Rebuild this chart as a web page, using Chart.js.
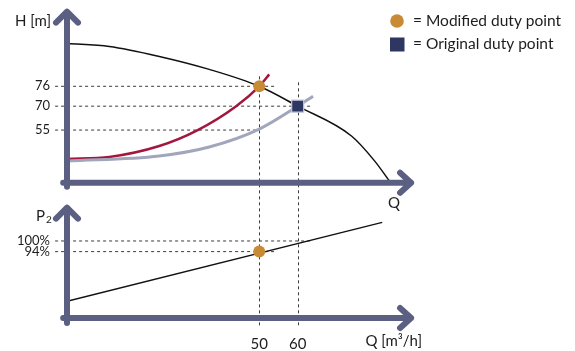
<!DOCTYPE html>
<html>
<head>
<meta charset="utf-8">
<script src="https://cdn.jsdelivr.net/npm/chart.js@4"></script>
<style>
    html, body { margin: 0; padding: 0; background: #fff; }
    #wrap { position: relative; width: 575px; height: 351px; }
</style>
</head>
<body>
<div id="wrap"><canvas id="dutyChart"></canvas></div>
<script>
// flow Q [m3/h] is shared by both panels
// head is a schematic axis: values are drawing units, tick labels say the real metres
const pumpQ = [0, 11, 24, 37, 50, 60, 74, 80, 84];
const pumpH = [140, 137, 127, 114, 97, 77, 47, 22, 1];
const modifiedQ = [0, 11, 24, 34, 44, 50, 52.6];
const modifiedH = [24, 26, 37, 53, 77, 97, 109];
const originalQ = [0, 24, 37, 50, 60, 64];
const originalH = [22, 27, 36, 54, 77, 87];
// shaft power P2 in %
const powerQ = [0, 82];
const powerP = [66, 110.5];

const modifiedPoint = { q: 50, h: 97, p: 94 };
const originalPoint = { q: 60, h: 77 };

const flowTicks = [50, 60];
const headTicks = [97, 77, 53];
const headLabels = ['76', '70', '55'];
const headGuideEnd = [54.4, 63.7, 50];
const powerTicks = [100, 94];
const powerLabels = ['100%', '94%'];
const powerGuideEnd = [63.7, 54.5];
const flowGuideTop = [107, 101];
const guideStart = -3.1;

const AXIS = '#5b6082';
const TEXT = '#1d1d1d';
const GUIDE = '#3c3c3c';
const ORANGE = '#c98a35';
const NAVY = '#2e3761';
const FONT = 'Lato';

const pts = (qs, vs) => qs.map((q, i) => ({ x: q, y: vs[i] }));

const curve = (label, data, axis, color, width) => ({
    label,
    data,
    yAxisID: axis,
    borderColor: color,
    borderWidth: width,
    pointRadius: 0,
    cubicInterpolationMode: 'monotone',
    fill: false,
    order: 1,
});

const guide = (y, end, axis) => ({
    label: 'guide',
    data: [{ x: guideStart, y }, { x: end, y }],
    yAxisID: axis,
    borderColor: GUIDE,
    borderWidth: 1,
    borderDash: [3, 3],
    pointRadius: 0,
    clip: false,
    order: 3,
});

const marker = (label, data, axis, style) => ({
    label,
    data,
    yAxisID: axis,
    showLine: false,
    clip: false,
    order: 0,
    ...style,
});

const dot = { pointStyle: 'circle', pointRadius: 6, backgroundColor: ORANGE, borderWidth: 0 };
const square = { pointStyle: 'rect', pointRadius: 8.5, backgroundColor: NAVY, borderColor: '#c3c7da', borderWidth: 1.2 };

const datasets = [
    marker('Modified duty point', [{ x: modifiedPoint.q, y: modifiedPoint.h }], 'yH', dot),
    marker('Original duty point', [{ x: originalPoint.q, y: originalPoint.h }], 'yH', square),
    marker('Modified P2', [{ x: modifiedPoint.q, y: modifiedPoint.p }], 'yP', dot),
    curve('Pump curve', pts(pumpQ, pumpH), 'yH', '#111111', 1.5),
    curve('Original system', pts(originalQ, originalH), 'yH', '#a1a6bd', 3),
    curve('Modified system', pts(modifiedQ, modifiedH), 'yH', '#a3173f', 2.5),
    curve('P2', pts(powerQ, powerP), 'yP', '#111111', 1.5),
    ...headTicks.map((h, i) => guide(h, headGuideEnd[i], 'yH')),
    ...powerTicks.map((p, i) => guide(p, powerGuideEnd[i], 'yP')),
];

function arrow(ctx, x1, y1, x2, y2, ax, ay, bx, by) {
    ctx.beginPath();
    ctx.moveTo(x1, y1);
    ctx.lineTo(x2, y2);
    ctx.moveTo(ax, ay);
    ctx.lineTo(x2, y2);
    ctx.lineTo(bx, by);
    ctx.stroke();
}

const schematic = {
    id: 'schematic',
    beforeDatasetsDraw(chart) {
        const { ctx, scales: { x, yH, yP } } = chart;
        ctx.save();
        ctx.strokeStyle = GUIDE;
        ctx.lineWidth = 1;
        ctx.setLineDash([3, 3]);
        flowTicks.forEach((q, i) => {
            const px = Math.round(x.getPixelForValue(q)) + 0.5;
            ctx.beginPath();
            ctx.moveTo(px, yH.getPixelForValue(flowGuideTop[i]));
            ctx.lineTo(px, yP.getPixelForValue(51.2));
            ctx.stroke();
        });
        ctx.restore();
    },
    afterDatasetsDraw(chart) {
        const { ctx, scales: { x, yH, yP } } = chart;
        const x0 = x.getPixelForValue(0);
        const xs = x.getPixelForValue(-1);
        const xe = x.getPixelForValue(89.5);
        ctx.save();
        ctx.strokeStyle = AXIS;
        ctx.lineWidth = 6;
        ctx.lineCap = 'round';
        ctx.lineJoin = 'round';

        // head panel
        const hTop = yH.getPixelForValue(172);
        const hAxis = yH.getPixelForValue(0);
        arrow(ctx, x0, hAxis + 4, x0, hTop, x0 - 11, hTop + 11, x0 + 11, hTop + 11);
        arrow(ctx, xs, hAxis, xe, hAxis, xe - 11, hAxis - 10, xe - 11, hAxis + 10);

        // power panel
        const pTop = yP.getPixelForValue(118.8);
        const pAxis = yP.getPixelForValue(56.5);
        arrow(ctx, x0, pAxis + 5, x0, pTop, x0 - 11, pTop + 11, x0 + 11, pTop + 11);
        arrow(ctx, xs, pAxis, xe, pAxis, xe - 11, pAxis - 10, xe - 11, pAxis + 10);

        // axis titles
        ctx.fillStyle = TEXT;
        ctx.textBaseline = 'middle';
        ctx.font = `15px ${FONT}`;
        ctx.textAlign = 'right';
        ctx.fillText('H [m]', x0 - 16, hTop + 9);
        ctx.fillText('P', x0 - 22, pTop + 8);
        ctx.font = `10px ${FONT}`;
        ctx.textAlign = 'left';
        ctx.fillText('2', x0 - 21, pTop + 12);
        ctx.font = `15px ${FONT}`;
        ctx.textAlign = 'center';
        ctx.fillText('Q', xe - 17, hAxis + 20);
        ctx.textAlign = 'right';
        ctx.fillText('Q [m\u00b3/h]', xe + 11, pAxis + 23);

        // legend
        ctx.font = `15.5px ${FONT}`;
        ctx.textAlign = 'left';
        ctx.fillStyle = ORANGE;
        ctx.beginPath();
        ctx.arc(397, 21, 6.8, 0, Math.PI * 2);
        ctx.fill();
        ctx.fillStyle = NAVY;
        ctx.fillRect(390, 37.5, 14.5, 14);
        ctx.fillStyle = TEXT;
        ctx.fillText('= Modified duty point', 413, 21);
        ctx.fillText('= Original duty point', 413, 43.5);
        ctx.restore();
    },
};

const yCommon = {
    type: 'linear',
    position: 'left',
    stack: 'panels',
    grid: { display: false, drawTicks: false },
    border: { display: false },
    afterFit: (scale) => {
        scale.width = 67;
        // tick padding would otherwise push the chart area down
        scale.paddingTop = 0;
        scale.paddingBottom = 0;
    },
};

new Chart(document.getElementById('dutyChart'), {
    type: 'line',
    data: { datasets },
    options: {
        responsive: true,
        maintainAspectRatio: false,
        animation: false,
        events: [],
        layout: { padding: { top: 8, right: 162, left: 0, bottom: 0 } },
        plugins: { legend: { display: false }, tooltip: { enabled: false } },
        scales: {
            x: {
                type: 'linear',
                min: 0,
                max: 90,
                grid: { display: false, drawTicks: false },
                border: { display: false },
                ticks: { padding: 9, color: TEXT, font: { family: FONT, size: 15 }, autoSkip: false },
                afterBuildTicks: (scale) => { scale.ticks = flowTicks.map((value) => ({ value })); },
                afterFit: (scale) => { scale.height = 25; },
            },
            yP: {
                ...yCommon,
                min: 52,
                max: 125,
                stackWeight: 130,
                weight: 1,
                ticks: {
                    padding: 17,
                    color: TEXT,
                    font: { family: FONT, size: 13, lineHeight: 1 },
                    autoSkip: false,
                    callback: (value) => powerLabels[powerTicks.indexOf(value)],
                },
                afterBuildTicks: (scale) => { scale.ticks = powerTicks.map((value) => ({ value })); },
            },
            yH: {
                ...yCommon,
                min: -14,
                max: 174,
                stackWeight: 188,
                weight: 2,
                ticks: {
                    padding: 17,
                    color: TEXT,
                    font: { family: FONT, size: 13, lineHeight: 1 },
                    autoSkip: false,
                    callback: (value) => headLabels[headTicks.indexOf(value)],
                },
                afterBuildTicks: (scale) => { scale.ticks = headTicks.map((value) => ({ value })); },
            },
        },
    },
    plugins: [schematic],
});
</script>
</body>
</html>
